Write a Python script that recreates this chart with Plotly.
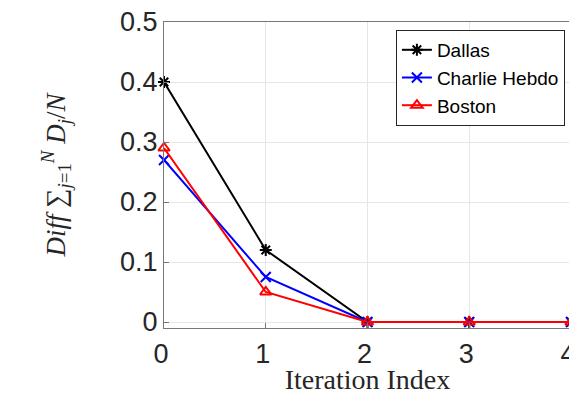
import plotly.graph_objects as go

iterations = [0, 1, 2, 3, 4]
x_tick_labels = ["0", "1", "2", "3", "4"]
y_tick_values = [0, 0.1, 0.2, 0.3, 0.4, 0.5]
y_tick_labels = ["0", "0.1", "0.2", "0.3", "0.4", "0.5"]
dallas = [0.40, 0.12, 0.0, 0.0, 0.0]
charlie_hebdo = [0.27, 0.075, 0.0, 0.0, 0.0]
boston = [0.29, 0.05, 0.0, 0.0, 0.0]

series = [
    ("Dallas", dallas, "black", "asterisk-open"),
    ("Charlie Hebdo", charlie_hebdo, "blue", "x-thin-open"),
    ("Boston", boston, "red", "triangle-up-open"),
]

fig = go.Figure()
for name, vals, color, sym in series:
    fig.add_trace(go.Scatter(
        x=iterations, y=vals, name=name, mode="lines+markers",
        line=dict(color=color, width=2),
        marker=dict(symbol=sym, size=10, color=color, line=dict(color=color, width=2)),
        cliponaxis=False,
    ))

axis_common = dict(
    showline=True, linecolor="#777777", linewidth=1, mirror=True,
    showgrid=True, gridcolor="#e6e6e6", gridwidth=1,
    ticks="inside", ticklen=5, tickcolor="#777777",
    tickfont=dict(family="Liberation Sans, Arial", size=27, color="#262626"),
    zeroline=False, automargin=False, ticklabeloverflow="allow",
)

# page body has an 8px margin, so the figure is shrunk by 8px to fit the window
fig.update_layout(
    width=569, height=387,
    margin=dict(l=156, r=6, t=14, b=67),
    paper_bgcolor="white", plot_bgcolor="white",
    xaxis=dict(range=[0, 4], tickvals=iterations, ticktext=x_tick_labels,
               ticklabelstandoff=2, ticklabelshift=-3,
               title=dict(text="Iteration Index", standoff=5,
                          font=dict(family="Liberation Serif, Times New Roman", size=28, color="#262626")),
               **axis_common),
    yaxis=dict(range=[-0.01, 0.5], tickvals=y_tick_values, ticktext=y_tick_labels,
               title=dict(text="<i>Diff</i> ∑<sub><i>j</i>=1</sub><sup><i>N</i></sup> <i>D<sub>j</sub></i>/<i>N</i>", standoff=46,
                          font=dict(family="Liberation Serif, Times New Roman", size=27, color="#262626")),
               **axis_common),
    legend=dict(x=0.985, y=0.974, xanchor="right", yanchor="top",
                bgcolor="white", bordercolor="#262626", borderwidth=1,
                font=dict(family="Liberation Sans, Arial", size=19, color="black"),
                itemwidth=30, tracegroupgap=0),
    showlegend=True,
)

fig.write_html("out.html")
